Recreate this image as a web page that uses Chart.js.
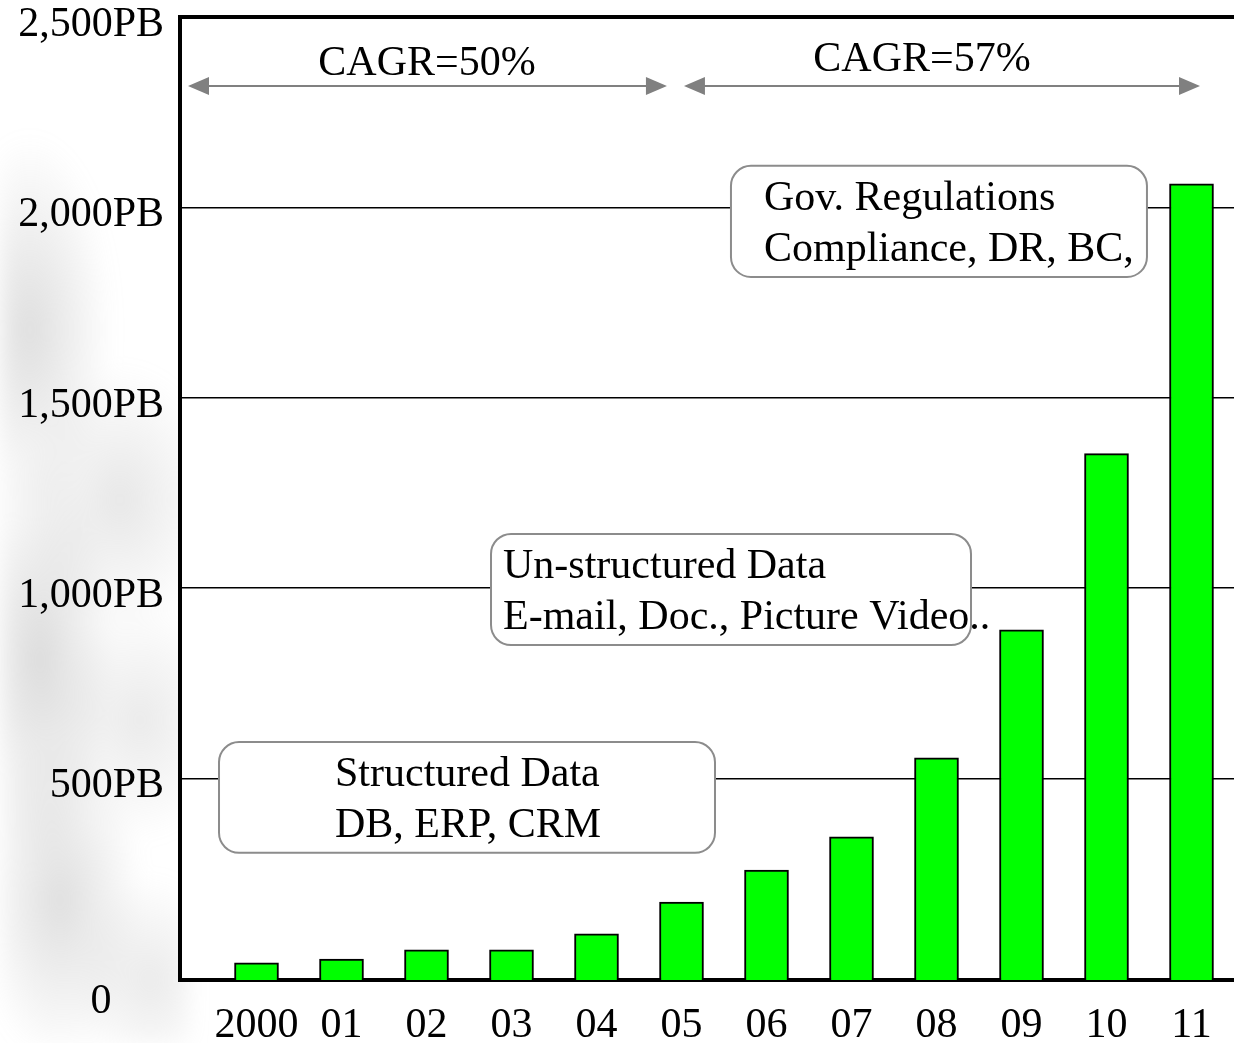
<!DOCTYPE html>
<html>
<head>
<meta charset="utf-8">
<title>Storage capacity growth 2000-2011</title>
<script src="https://cdn.jsdelivr.net/npm/chart.js@4.4.1/dist/chart.umd.min.js"></script>
<style>
  html, body { margin: 0; padding: 0; background: #fff; }
  #wrap { position: relative; width: 1234px; height: 1043px; overflow: hidden; }
  #texture {
    position: absolute; left: 0; top: 0; width: 190px; height: 1043px;
    background:
      radial-gradient(ellipse 110px 260px at 30px 330px, rgba(170,170,170,0.38), transparent 75%),
      radial-gradient(ellipse 130px 180px at 120px 500px, rgba(180,180,180,0.32), transparent 75%),
      radial-gradient(ellipse 100px 280px at 40px 660px, rgba(165,165,165,0.40), transparent 75%),
      radial-gradient(ellipse 120px 160px at 140px 720px, rgba(185,185,185,0.30), transparent 75%),
      radial-gradient(ellipse 110px 220px at 60px 900px, rgba(170,170,170,0.38), transparent 75%),
      radial-gradient(ellipse 100px 140px at 150px 980px, rgba(185,185,185,0.30), transparent 75%);
    filter: blur(10px);
  }
  canvas { position: absolute; left: 0; top: 0; }
</style>
</head>
<body>
<div id="wrap">
  <div id="texture"></div>
  <canvas id="chart" width="1234" height="1043"></canvas>
</div>
<script>
// Chart data
const years = ['2000', '01', '02', '03', '04', '05', '06', '07', '08', '09', '10', '11'];
const capacityPB = [15, 25, 49, 49, 91, 175, 259, 346, 554, 890, 1353, 2062];
const yTicks = [0, 500, 1000, 1500, 2000, 2500];

// Annotations, placed in data units (x = year index, y = PB)
const arrowSpans = [
  { label: 'CAGR=50%', from: -0.806, to: 4.829, at: 2319, textX: 2.006, textY: 2377 },
  { label: 'CAGR=57%', from: 5.029, to: 11.1, at: 2319, textX: 7.829, textY: 2387 }
];
const noteBoxes = [
  { lines: ['Gov. Regulations', 'Compliance, DR, BC,'], x0: 5.582, x1: 10.476, top: 2109, bottom: 1817, indent: 33 },
  { lines: ['Un-structured Data', 'E-mail, Doc., Picture Video..'], x0: 2.759, x1: 8.406, top: 1142, bottom: 850, indent: 12 },
  { lines: ['Structured Data', 'DB, ERP, CRM'], x0: -0.441, x1: 5.394, top: 595, bottom: 304, indent: 116 }
];

const serif = "'Liberation Serif', 'Times New Roman', serif";
const fontSize = 42;

// White plot background so the side texture stays outside
const plotBackground = {
  id: 'plotBackground',
  beforeDraw(chart) {
    const { ctx, chartArea } = chart;
    ctx.save();
    ctx.fillStyle = '#fff';
    ctx.fillRect(chartArea.left, chartArea.top, chartArea.right - chartArea.left, chartArea.bottom - chartArea.top);
    ctx.restore();
  }
};

function drawHead(ctx, tipX, y, dir) {
  ctx.beginPath();
  ctx.moveTo(tipX, y);
  ctx.lineTo(tipX + dir * 21, y - 9);
  ctx.lineTo(tipX + dir * 21, y + 9);
  ctx.closePath();
  ctx.fill();
}

const annotations = {
  id: 'annotations',
  afterDatasetsDraw(chart) {
    const { ctx, scales: { x, y } } = chart;
    ctx.save();

    // CAGR arrows
    arrowSpans.forEach(span => {
      const x0 = x.getPixelForValue(span.from);
      const x1 = x.getPixelForValue(span.to);
      const py = y.getPixelForValue(span.at);
      ctx.strokeStyle = '#808080';
      ctx.fillStyle = '#808080';
      ctx.lineWidth = 2;
      ctx.beginPath();
      ctx.moveTo(x0 + 18, py);
      ctx.lineTo(x1 - 18, py);
      ctx.stroke();
      drawHead(ctx, x0, py, 1);
      drawHead(ctx, x1, py, -1);

      ctx.fillStyle = '#000';
      ctx.font = fontSize + 'px ' + serif;
      ctx.textAlign = 'center';
      ctx.textBaseline = 'middle';
      ctx.fillText(span.label, x.getPixelForValue(span.textX), y.getPixelForValue(span.textY));
    });

    // Rounded note boxes
    noteBoxes.forEach(box => {
      const left = x.getPixelForValue(box.x0);
      const right = x.getPixelForValue(box.x1);
      const top = y.getPixelForValue(box.top);
      const bottom = y.getPixelForValue(box.bottom);
      ctx.beginPath();
      ctx.roundRect(left, top, right - left, bottom - top, 20);
      ctx.fillStyle = '#fff';
      ctx.fill();
      ctx.strokeStyle = '#8c8c8c';
      ctx.lineWidth = 2;
      ctx.stroke();

      ctx.fillStyle = '#000';
      ctx.font = fontSize + 'px ' + serif;
      ctx.textAlign = 'left';
      ctx.textBaseline = 'middle';
      box.lines.forEach((line, i) => {
        ctx.fillText(line, left + box.indent, top + 33 + i * 51);
      });
    });

    ctx.restore();
  }
};

const ctx = document.getElementById('chart').getContext('2d');
new Chart(ctx, {
  type: 'bar',
  data: {
    datasets: [{
      label: 'Capacity (PB)',
      data: years.map((yr, i) => ({ x: i, y: capacityPB[i] })),
      backgroundColor: '#00ff00',
      borderColor: '#000',
      borderWidth: 2,
      barThickness: 44,
      base: -30
    }]
  },
  options: {
    responsive: false,
    animation: false,
    layout: { padding: { top: 17, right: 0, bottom: 0, left: 0 } },
    plugins: {
      legend: { display: false },
      tooltip: { enabled: false }
    },
    scales: {
      x: {
        type: 'linear',
        offset: false,
        min: -0.9,
        max: 11.5,
        afterBuildTicks: scale => {
          scale.ticks = years.map((yr, i) => ({ value: i }));
        },
        afterFit: scale => {
          scale.height = 63;
          scale.paddingLeft = 0;
          scale.paddingRight = 0;
        },
        grid: { display: false, offset: false },
        border: { display: true, color: '#000', width: 4 },
        ticks: {
          autoSkip: false,
          maxRotation: 0,
          padding: 13,
          color: '#000',
          font: { family: serif, size: fontSize },
          callback: value => years[value] ?? ''
        }
      },
      y: {
        min: -30,
        max: 2500,
        afterBuildTicks: scale => {
          scale.ticks = yTicks.map(v => ({ value: v }));
        },
        afterFit: scale => {
          scale.width = 180;
          scale.paddingTop = 0;
          scale.paddingBottom = 0;
        },
        grid: {
          drawTicks: false,
          color: c => (c.tick && c.tick.value === 0 ? 'rgba(0,0,0,0)' : '#000'),
          lineWidth: c => (c.tick && c.tick.value === 2500 ? 4 : 1.5)
        },
        border: { display: true, color: '#000', width: 4 },
        ticks: {
          padding: 16,
          labelOffset: 8,
          color: '#000',
          font: { family: serif, size: fontSize },
          callback: value => (value === 0
            ? ['', '0' + '\u00a0'.repeat(5)]
            : value.toLocaleString('en-US') + 'PB')
        }
      }
    }
  },
  plugins: [plotBackground, annotations]
});
</script>
</body>
</html>
